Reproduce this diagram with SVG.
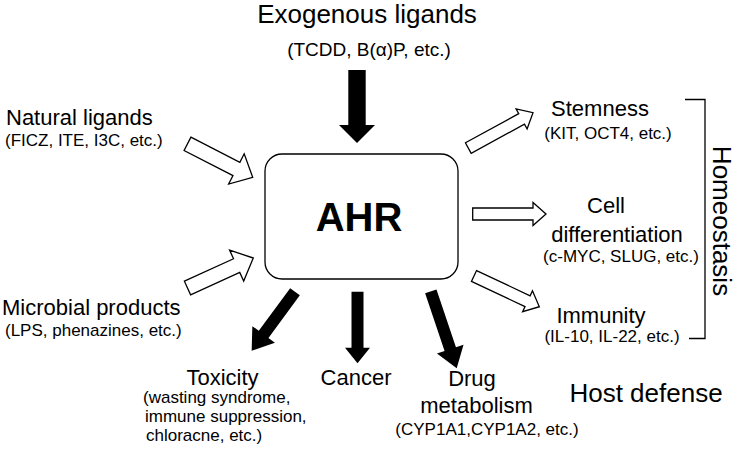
<svg xmlns="http://www.w3.org/2000/svg" width="738" height="451" viewBox="0 0 738 451">
<style>
text{font-family:"Liberation Sans",Arial,sans-serif;fill:#000}
.big{font-size:22px}
.sm{font-size:17px}
.mid{text-anchor:middle}
.wa{fill:#fff;stroke:#000;stroke-width:1.3;stroke-linejoin:miter}
.ba{fill:#000;stroke:none}
</style>
<rect width="738" height="451" fill="#fff"/>
<g id="connectors">
  <polygon class="wa" transform="translate(187.5,143.8) rotate(27.2)" points="0,-7.5 55,-7.5 55,-17 73.3,0 55,17 55,7.5 0,7.5"/>
  <polygon class="wa" transform="translate(187.5,288) rotate(-24.5)" points="0,-7.5 54,-7.5 54,-17 72.3,0 54,17 54,7.5 0,7.5"/>
  <polygon class="wa" transform="translate(468.3,148) rotate(-28.6)" points="0,-6 60.7,-6 60.7,-11.5 73.7,0 60.7,11.5 60.7,6 0,6"/>
  <polygon class="wa" transform="translate(472.7,214)" points="0,-6 60.3,-6 60.3,-11.5 73.3,0 60.3,11.5 60.3,6 0,6"/>
  <polygon class="wa" transform="translate(474,276) rotate(25.2)" points="0,-6 59.2,-6 59.2,-11.5 72.2,0 59.2,11.5 59.2,6 0,6"/>
  <polygon class="ba" transform="translate(357,70) rotate(90)" points="0,-8.7 55,-8.7 55,-18 73,0 55,18 55,8.7 0,8.7"/>
  <polygon class="ba" transform="translate(295,291.7) rotate(126.3)" points="0,-6 53,-6 53,-14 73.2,0 53,14 53,6 0,6"/>
  <polygon class="ba" transform="translate(357.5,291.7) rotate(90)" points="0,-6 56,-6 56,-12.5 71.6,0 56,12.5 56,6 0,6"/>
  <polygon class="ba" transform="translate(430.8,291.3) rotate(71.4)" points="0,-6 61,-6 61,-14 81.2,0 61,14 61,6 0,6"/>
  <path d="M685,99.5 H705 V338.5 H689" fill="none" stroke="#000" stroke-width="1.3"/>
</g>
<g id="ahr">
  <rect x="265" y="154" width="193" height="125" rx="17" ry="17" fill="#fff" stroke="#000" stroke-width="1.3"/>
  <text x="359" y="231" class="mid" style="font-size:40px;font-weight:bold">AHR</text>
</g>
<g id="exogenous">
  <text x="367" y="23" class="mid" style="font-size:26px">Exogenous ligands</text>
  <text x="369" y="56" class="mid" style="font-size:19px">(TCDD, B(α)P, etc.)</text>
</g>
<g id="natural">
  <text x="6" y="125" class="big">Natural ligands</text>
  <text x="5" y="146" class="sm">(FICZ, ITE, I3C, etc.)</text>
</g>
<g id="microbial">
  <text x="2" y="315" class="big">Microbial products</text>
  <text x="5" y="336" class="sm">(LPS, phenazines, etc.)</text>
</g>
<g id="stemness">
  <text x="600" y="116" class="big mid">Stemness</text>
  <text x="608" y="139" class="sm mid">(KIT, OCT4, etc.)</text>
</g>
<g id="celldiff">
  <text x="606" y="213" class="big mid">Cell</text>
  <text x="617" y="241.5" class="big mid">differentiation</text>
  <text x="621" y="261.5" class="sm mid">(c-MYC, SLUG, etc.)</text>
</g>
<g id="immunity">
  <text x="601" y="322.5" class="big mid">Immunity</text>
  <text x="612" y="342" class="sm mid">(IL-10, IL-22, etc.)</text>
</g>
<g id="homeostasis">
  <text transform="translate(713,221) rotate(90)" class="mid" style="font-size:26px">Homeostasis</text>
</g>
<g id="toxicity">
  <text x="222.5" y="385" class="big mid">Toxicity</text>
  <text x="143" y="403" class="sm">(wasting syndrome,</text>
  <text x="145" y="422" class="sm">immune suppression,</text>
  <text x="146" y="441" class="sm">chloracne, etc.)</text>
</g>
<g id="cancer">
  <text x="356" y="385" class="big mid">Cancer</text>
</g>
<g id="drug">
  <text x="472" y="386" class="big mid">Drug</text>
  <text x="476.5" y="413" class="big mid">metabolism</text>
  <text x="487" y="435" class="sm mid">(CYP1A1,CYP1A2, etc.)</text>
</g>
<g id="hostdefense">
  <text x="646" y="402" class="mid" style="font-size:26px">Host defense</text>
</g>
</svg>
